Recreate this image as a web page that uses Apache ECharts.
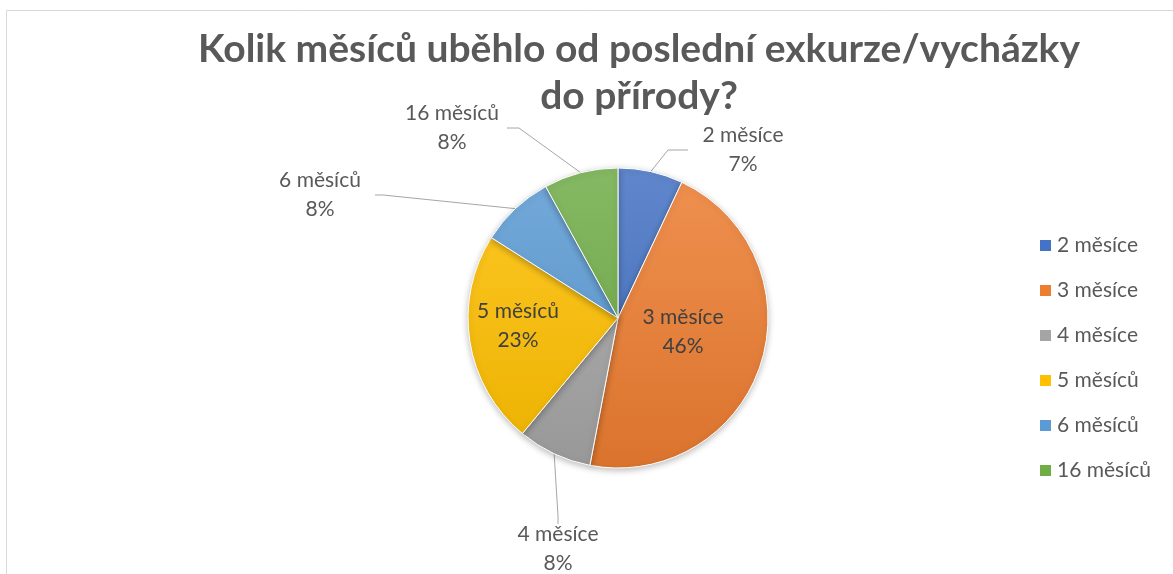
<!DOCTYPE html>
<html>
<head>
<meta charset="utf-8">
<script src="https://cdn.jsdelivr.net/npm/echarts@6/dist/echarts.min.js"></script>
<style>
html, body { margin: 0; padding: 0; background: #fff; }
#main { width: 1173px; height: 574px; }
</style>
</head>
<body>
<div id="main"></div>
<script>
// data
var categories = ['2 měsíce', '3 měsíce', '4 měsíce', '5 měsíců', '6 měsíců', '16 měsíců'];
var percents = [7, 46, 8, 23, 8, 8];
var colors = ['#4472C4', '#ED7D31', '#A5A5A5', '#FFC000', '#5B9BD5', '#70AD47'];
var titleText = 'Kolik měsíců uběhlo od poslední exkurze/vycházky\ndo přírody?';

// layout
var cx = 618, cy = 318, r = 150;
var insideIdx = [1, 3];
// label block centres (placed by hand in the original)
var labelPos = [[743, 150], [683, 332], [558, 549], [518, 326], [320, 195], [452, 128]];
var labelLen2 = [20, 0, 8, 0, 8, 12];

function shade(hex, f) {
    var n = parseInt(hex.slice(1), 16);
    var c = [(n >> 16) & 255, (n >> 8) & 255, n & 255].map(function (v) {
        v = f > 0 ? v + (255 - v) * f : v * (1 + f);
        return Math.round(v);
    });
    return 'rgb(' + c.join(',') + ')';
}

function grad(hex) {
    return new echarts.graphic.LinearGradient(0, cy - r, 0, cy + r, [
        { offset: 0, color: shade(hex, 0.15) },
        { offset: 1, color: shade(hex, -0.08) }
    ], true);
}

var myChart = echarts.init(document.getElementById('main'));

var pieData = categories.map(function (name, i) {
    var inside = insideIdx.indexOf(i) >= 0;
    return {
        name: name,
        value: percents[i],
        itemStyle: { color: grad(colors[i]) },
        label: {
            position: inside ? 'inside' : 'outside',
            rich: { t: { color: inside ? '#404040' : '#595959' } }
        },
        labelLine: { length2: labelLen2[i] }
    };
});

var option = {
    backgroundColor: '#fff',
    animation: false,
    title: {
        text: titleText,
        left: 634,
        top: 21,
        textAlign: 'center',
        textStyle: {
            fontFamily: 'Lato',
            fontSize: 39,
            fontWeight: 'bold',
            color: '#595959',
            lineHeight: 47
        }
    },
    legend: {
        orient: 'vertical',
        left: 1033,
        top: 230,
        icon: 'rect',
        itemWidth: 13,
        itemHeight: 13,
        itemGap: 24,
        textStyle: { fontFamily: 'Lato', fontSize: 21, color: '#595959' },
        data: categories.map(function (n, i) {
            return { name: n, itemStyle: { color: colors[i] } };
        })
    },
    graphic: [{
        type: 'rect',
        silent: true,
        shape: { x: 6.5, y: 10.5, width: 1200, height: 620 },
        style: { fill: 'none', stroke: '#d9d9d9', lineWidth: 1 }
    }],
    series: [{
        type: 'pie',
        center: [cx, cy],
        radius: r,
        startAngle: 90,
        clockwise: true,
        percentPrecision: 0,
        avoidLabelOverlap: false,
        itemStyle: {
            borderColor: '#fff',
            borderWidth: 1,
            shadowBlur: 6,
            shadowOffsetY: 2,
            shadowColor: 'rgba(0,0,0,0.25)'
        },
        label: {
            formatter: '{t|{b}}\n{t|{d}%}',
            rich: {
                t: { width: 110, align: 'center', fontFamily: 'Lato', fontSize: 21, lineHeight: 29 }
            }
        },
        labelLine: {
            lineStyle: { color: '#a6a6a6', width: 1 },
            length: 15
        },
        labelLayout: function (params) {
            var p = labelPos[params.dataIndex];
            if (!p) return {};
            return { x: p[0], y: p[1], align: 'center', verticalAlign: 'middle' };
        },
        emphasis: { disabled: true },
        data: pieData
    }]
};

myChart.setOption(option);
</script>
</body>
</html>
